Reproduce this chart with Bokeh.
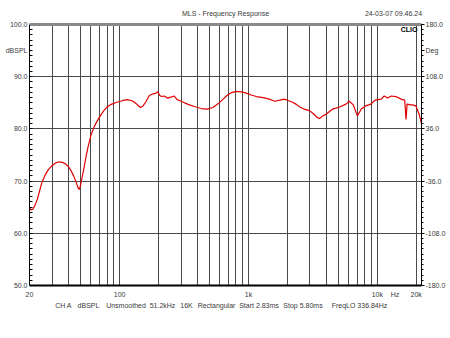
from bokeh.plotting import figure
from bokeh.models import (FixedTicker, LinearAxis, LogAxis, Range1d, Label)
from bokeh.embed import file_html
from bokeh.resources import INLINE

# ---- data ----
freq_hz = [20, 20.5, 21.2, 22, 23, 24, 25, 26.5, 28, 30, 32, 34, 36, 38, 40,
           42, 44, 46, 47.5, 48.5, 49.5, 51, 53, 55, 57, 60, 63, 66, 70, 75,
           80, 86, 95, 105, 115, 125, 135, 145, 152, 160, 170, 180, 190, 198,
           205, 212, 222, 235, 250, 265, 280, 300, 340, 380, 430, 480, 530,
           580, 630, 680, 730, 800, 880, 950, 1050, 1150, 1300, 1450, 1600,
           1750, 1900, 2050, 2200, 2350, 2500, 2700, 2970, 3200, 3400, 3560,
           3770, 4000, 4500, 5100, 5700, 6060, 6500, 7000, 7500, 8100, 8900,
           9600, 10700, 11300, 12000, 12800, 13900, 15300, 16300, 16700,
           17000, 18100, 18700, 19900, 21100, 22000]
spl_db = [64.9, 64.5, 64.6, 65.3, 66.5, 68.2, 69.8, 71.2, 72.2, 73.0, 73.5,
          73.7, 73.6, 73.3, 72.8, 72.0, 71.0, 69.8, 68.8, 68.4, 68.9, 70.5,
          72.6, 74.8, 76.6, 78.8, 80.2, 81.2, 82.3, 83.4, 84.2, 84.7, 85.1,
          85.4, 85.6, 85.4, 84.8, 84.1, 84.4, 85.2, 86.4, 86.7, 86.8, 87.1,
          86.4, 86.2, 86.3, 85.9, 86.1, 86.3, 85.6, 85.3, 84.7, 84.3, 83.9,
          83.8, 84.1, 84.8, 85.6, 86.4, 86.9, 87.2, 87.1, 86.9, 86.5, 86.2,
          86.0, 85.7, 85.3, 85.5, 85.7, 85.4, 85.1, 84.7, 84.2, 83.8, 83.5,
          82.9, 82.2, 82.0, 82.5, 82.8, 83.8, 84.2, 84.75, 85.3, 84.6, 82.5,
          83.8, 84.4, 84.75, 85.5, 85.7, 86.3, 85.9, 86.3, 86.2, 85.7, 85.5,
          81.8, 84.75, 84.6, 84.6, 84.4, 82.8, 81.0]

spl_ticks = [50, 60, 70, 80, 90, 95, 100]
spl_labels = ["50.0", "60.0", "70.0", "80.0", "90.0", "dBSPL", "100.0"]
deg_ticks = [-180, -108, -36, 36, 108, 144, 180]
deg_labels = ["-180.0", "-108.0", "-36.0", "36.0", "108.0", "Deg", "180.0"]
freq_ticks = [20, 100, 1000, 10000, 13700, 20000]
freq_labels = ["20", "100", "1k", "10k", "Hz", "20k"]
grid_freqs = [30, 40, 50, 60, 70, 80, 90,
              100, 200, 300, 400, 500, 600, 700, 800, 900,
              1000, 2000, 3000, 4000, 5000, 6000, 7000, 8000, 9000,
              10000, 20000]
grid_spl = [60, 70, 80, 90]

header_items = ["MLS - Frequency Response", "24-03-07 09.46.24"]
logo_text = "CLIO"
info_items = ["CH A", "dBSPL", "Unsmoothed", "51.2kHz", "16K", "Rectangular",
              "Start 2.83ms", "Stop 5.80ms", "FreqLO 336.84Hz"]

# ---- layout ----
FL, FT, FW, FH = 29, 24, 392, 261
XMIN, XMAX, YMIN, YMAX = 20, 22000, 50, 100
FONT = "Liberation Sans"
TXT = "#3a3a3a"
header_px = [225, 393]
info_px = [63, 88, 125.5, 162, 186, 216, 258.5, 302.5, 359]

p = figure(width=450, height=338, frame_width=FW, frame_height=FH,
           x_axis_type="log", x_range=(XMIN, XMAX), y_range=(YMIN, YMAX),
           output_backend="svg", toolbar_location=None,
           min_border_left=FL, min_border_right=450 - FL - FW,
           min_border_top=FT, min_border_bottom=338 - FT - FH)
p.outline_line_color = None
p.background_fill_color = "white"
p.border_fill_color = "white"


def px_to_f(x):
    return XMIN * (XMAX / XMIN) ** ((x - FL) / FW)


def px_to_db(y):
    return YMAX - (y - FT) * (YMAX - YMIN) / FH


def style_labels(a, size="7px"):
    a.major_label_text_font = FONT
    a.major_label_text_font_size = size
    a.major_label_text_color = TXT


# left axis
ax = p.left[0]
ax.ticker = FixedTicker(ticks=spl_ticks, minor_ticks=list(range(51, 100)))
ax.major_label_overrides = {t: s for t, s in zip(spl_ticks, spl_labels)}
ax.major_tick_in = 0
ax.major_tick_out = 0
ax.minor_tick_in = 3
ax.minor_tick_out = 0
ax.axis_line_color = "black"
style_labels(ax)
ax.major_label_standoff = 2

# right axis
p.extra_y_ranges = {"deg": Range1d(-180, 180)}
rax = LinearAxis(y_range_name="deg")
rax.ticker = FixedTicker(ticks=deg_ticks,
                         minor_ticks=[-180 + 7.2 * i for i in range(51)])
rax.major_label_overrides = {t: s for t, s in zip(deg_ticks, deg_labels)}
rax.major_tick_in = 0
rax.major_tick_out = 3
rax.minor_tick_in = 0
rax.minor_tick_out = 2
rax.axis_line_color = "black"
style_labels(rax)
rax.major_label_standoff = 1
p.add_layout(rax, "right")

# bottom axis (frequency)
bx = p.below[0]
bx.ticker = FixedTicker(ticks=freq_ticks, minor_ticks=[])
bx.major_label_overrides = {t: s for t, s in zip(freq_ticks, freq_labels)}
bx.major_tick_in = 0
bx.major_tick_out = 0
bx.minor_tick_in = 0
bx.minor_tick_out = 0
bx.axis_line_color = "black"
bx.axis_line_width = 2
style_labels(bx)
bx.major_label_standoff = 5

# second bottom row: measurement settings
info_f = [px_to_f(x) for x in info_px]
ix = LogAxis(ticker=FixedTicker(ticks=info_f, minor_ticks=[]))
ix.major_label_overrides = {t: s for t, s in zip(info_f, info_items)}
ix.axis_line_color = None
ix.major_tick_in = 0
ix.major_tick_out = 0
ix.minor_tick_in = 0
ix.minor_tick_out = 0
style_labels(ix)
ix.major_label_standoff = 1
p.add_layout(ix, "below")

# top border + header texts
head_f = [px_to_f(x) for x in header_px]
tx = LogAxis(ticker=FixedTicker(ticks=head_f, minor_ticks=[]))
tx.major_label_overrides = {t: s for t, s in zip(head_f, header_items)}
tx.axis_line_color = "#8a8a8a"
tx.axis_line_width = 3
tx.major_tick_in = 0
tx.major_tick_out = 0
tx.minor_tick_in = 0
tx.minor_tick_out = 0
style_labels(tx)
tx.major_label_standoff = 8
p.add_layout(tx, "above")

# grid
p.xgrid.ticker = FixedTicker(ticks=grid_freqs)
p.ygrid.ticker = FixedTicker(ticks=grid_spl)
for g in (p.xgrid[0], p.ygrid[0]):
    g.grid_line_color = "#4a4a4a"
    g.grid_line_width = 1
    g.grid_line_alpha = 1

# curve
p.line(freq_hz, spl_db, line_color="#e00000", line_width=1.2)

# logo inside the frame
p.add_layout(Label(x=px_to_f(417), y=px_to_db(29), text=logo_text,
                   text_align="right", text_baseline="middle",
                   text_font=FONT, text_font_size="7px", text_font_style="bold",
                   text_color="black"))

open("out.html", "w").write(file_html(p, INLINE))
